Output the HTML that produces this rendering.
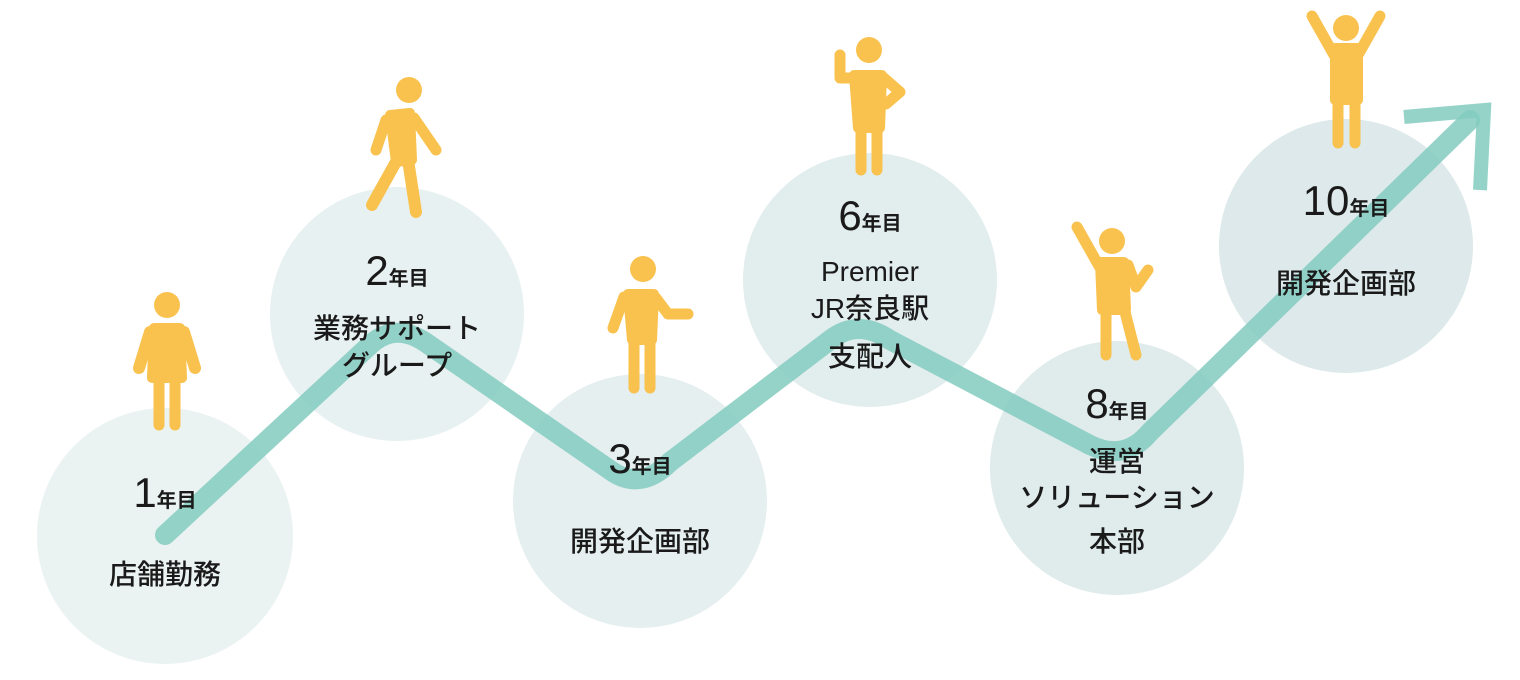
<!DOCTYPE html>
<html><head><meta charset="utf-8"><style>
html,body{margin:0;padding:0;background:#fff;}
svg{display:block;}
text{font-family:"Liberation Sans","Noto Sans CJK JP",sans-serif;fill:#1a1a1a;font-weight:500;text-anchor:middle;}
.l{font-size:28px;font-weight:500;}
.n{font-size:42px;font-family:"Liberation Sans",sans-serif;font-weight:500;}
.y{font-size:20px;font-weight:700;}
</style></head><body>
<svg width="1520" height="680" viewBox="0 0 1520 680" xmlns="http://www.w3.org/2000/svg">
<g>
<circle cx="165" cy="536" r="128" fill="#ebf3f2"/>
<circle cx="397" cy="314" r="127" fill="#e8f1f1"/>
<circle cx="640" cy="501" r="127" fill="#e5eff0"/>
<circle cx="870" cy="280" r="127" fill="#e2eded"/>
<circle cx="1117" cy="468" r="127" fill="#e0ebec"/>
<circle cx="1346" cy="246" r="127" fill="#dde9ea"/>
</g>
<path d="M165 535 L370 345 Q395 322 425 342 L610 470 Q640 492 670 462 L830 340 Q858 318 890 340 L1090 445 Q1125 462 1150 432 L1470 120" fill="none" stroke="#82cbbf" stroke-opacity="0.85" stroke-width="20" stroke-linecap="round" stroke-linejoin="round"/>
<path d="M1404 117 L1484 110 L1480 190" fill="none" stroke="#82cbbf" stroke-opacity="0.85" stroke-width="14"/>
<g fill="#f9c24e" stroke="#f9c24e" stroke-linecap="round" stroke-linejoin="round">
<circle cx="167" cy="305" r="13" stroke="none"/>
<path d="M154 328 L180 328 L182 378 L152 378 Z" stroke-width="10"/>
<path d="M150 332 L139 368 M184 332 L195 368" stroke-width="12" fill="none"/>
<path d="M159 375 L159 425 M175 375 L175 425" stroke-width="11" fill="none"/>
<circle cx="409" cy="90" r="13" stroke="none"/>
<path d="M390 115 L410 113 L412 160 L396 162 Z" stroke-width="10"/>
<path d="M386 120 L376 150 M414 118 L436 150" stroke-width="11" fill="none"/>
<path d="M397 160 L372 205 M408 160 L416 212" stroke-width="12" fill="none"/>
<circle cx="643" cy="269" r="13" stroke="none"/>
<path d="M628 294 L654 294 L652 340 L632 340 Z" stroke-width="10"/>
<path d="M624 297 L613 328 M656 298 L668 314 L688 314" stroke-width="11" fill="none"/>
<path d="M634 338 L634 388 M650 338 L650 388" stroke-width="11" fill="none"/>
<circle cx="869" cy="50" r="13" stroke="none"/>
<path d="M854 75 L882 75 L880 128 L858 128 Z" stroke-width="10"/>
<path d="M852 78 L840 78 L840 55 M884 78 L900 92 L886 104" stroke-width="11" fill="none"/>
<path d="M861 125 L861 170 M877 125 L877 170" stroke-width="11" fill="none"/>
<circle cx="1112" cy="241" r="13" stroke="none"/>
<path d="M1100 262 L1124 262 L1126 310 L1102 310 Z" stroke-width="10"/>
<path d="M1077 227 L1099 266 M1128 265 L1136 287 L1148 270" stroke-width="11" fill="none"/>
<path d="M1106 308 L1106 355 M1124 308 L1136 355" stroke-width="11" fill="none"/>
<circle cx="1346" cy="28" r="13" stroke="none"/>
<path d="M1335 48 L1358 48 L1358 100 L1335 100 Z" stroke-width="10"/>
<path d="M1312 16 L1334 55 M1380 16 L1358 55" stroke-width="11" fill="none"/>
<path d="M1338 98 L1338 143 M1355 98 L1355 143" stroke-width="11" fill="none"/>
</g>
<g>
<text x="165" y="507"><tspan class="n">1</tspan><tspan class="y">年目</tspan></text>
<text class="l" x="165" y="584">店舗勤務</text>
<text x="397" y="285"><tspan class="n">2</tspan><tspan class="y">年目</tspan></text>
<text class="l" x="397" y="338">業務サポート</text>
<text class="l" x="397" y="375">グループ</text>
<text x="640" y="473"><tspan class="n">3</tspan><tspan class="y">年目</tspan></text>
<text class="l" x="640" y="551">開発企画部</text>
<text x="870" y="230"><tspan class="n">6</tspan><tspan class="y">年目</tspan></text>
<text class="l" x="870" y="281">Premier</text>
<text class="l" x="870" y="318">JR奈良駅</text>
<text class="l" x="870" y="366">支配人</text>
<text x="1117" y="418"><tspan class="n">8</tspan><tspan class="y">年目</tspan></text>
<text class="l" x="1117" y="471">運営</text>
<text class="l" x="1117" y="507">ソリューション</text>
<text class="l" x="1117" y="551">本部</text>
<text x="1346" y="215"><tspan class="n">10</tspan><tspan class="y">年目</tspan></text>
<text class="l" x="1346" y="293">開発企画部</text>
</g>
</svg>
</body></html>
